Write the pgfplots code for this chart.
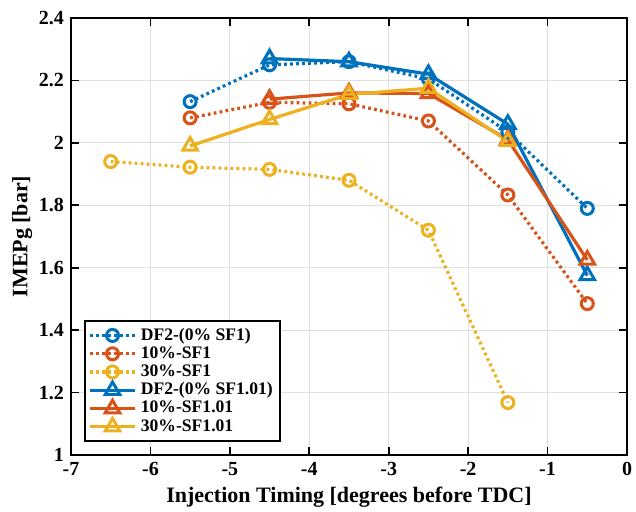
\documentclass[border=0pt]{standalone}
\usepackage{fontspec}
\setmainfont{Liberation Serif}
\usepackage{pgfplots}
\pgfplotsset{compat=1.18}
\definecolor{mblue}{RGB}{0,114,189}
\definecolor{morange}{RGB}{217,83,25}
\definecolor{myellow}{RGB}{237,177,32}
\begin{document}
\begin{tikzpicture}
\begin{axis}[
  at={(0,0)}, anchor=south west,
  scale only axis, width=278pt, height=218.5pt,
  xmin=-7, xmax=0, ymin=1, ymax=2.4,
  xtick={-7,-6,...,0}, ytick={1,1.2,...,2.4},
  yticklabels={1,1.2,1.4,1.6,1.8,2,2.2,2.4},
  xticklabels={-7,-6,-5,-4,-3,-2,-1,0},
  grid=major, major grid style={gray!25, line width=0.6pt},
  axis line style={line width=1pt},
  tick style={black, line width=0.8pt},
  major tick length=4pt,
  tick align=inside,
  /pgf/number format/assume math mode=true,
  tick label style={font=\fontsize{10}{12}\selectfont\bfseries},
  xlabel={Injection Timing [degrees before TDC]},
  ylabel={IMEPg [bar]},
  label style={font=\fontsize{11}{13}\selectfont\bfseries},
  xlabel style={yshift=1pt},
  ylabel style={yshift=-3.5pt},
  legend cell align=left,
  legend style={at={(0.024,0.03)}, anchor=south west, draw=black, line width=0.8pt,
    font=\fontsize{8.8}{10.5}\selectfont\bfseries, inner sep=1.5pt, row sep=-2.3pt},
  legend image code/.code={
    \draw[mark repeat=2,mark phase=2] plot coordinates {(0cm,0cm)(0.4cm,0cm)(0.8cm,0cm)};
  },
]
\addplot[mblue, line width=1.6pt, dash pattern=on 1.4pt off 1.6pt, mark=o, mark size=3pt, mark options={solid, line width=1.5pt}]
 coordinates {(-5.5,2.132)(-4.5,2.25)(-3.5,2.26)(-2.5,2.205)(-1.5,2.035)(-0.5,1.79)};
\addlegendentry{DF2-(0\% SF1)}
\addplot[morange, line width=1.6pt, dash pattern=on 1.4pt off 1.6pt, mark=o, mark size=3pt, mark options={solid, line width=1.5pt}]
 coordinates {(-5.5,2.08)(-4.5,2.13)(-3.5,2.125)(-2.5,2.07)(-1.5,1.833)(-0.5,1.485)};
\addlegendentry{10\%-SF1}
\addplot[myellow, line width=1.6pt, dash pattern=on 1.4pt off 1.6pt, mark=o, mark size=3pt, mark options={solid, line width=1.5pt}]
 coordinates {(-6.5,1.94)(-5.5,1.922)(-4.5,1.915)(-3.5,1.88)(-2.5,1.72)(-1.5,1.168)};
\addlegendentry{30\%-SF1}
\addplot[mblue, line width=1.6pt, mark=triangle, mark size=4.2pt, mark options={solid, line width=1.5pt}]
 coordinates {(-4.5,2.27)(-3.5,2.26)(-2.5,2.22)(-1.5,2.06)(-0.5,1.575)};
\addlegendentry{DF2-(0\% SF1.01)}
\addplot[morange, line width=1.6pt, mark=triangle, mark size=4.2pt, mark options={solid, line width=1.5pt}]
 coordinates {(-4.5,2.14)(-3.5,2.16)(-2.5,2.158)(-1.5,2.01)(-0.5,1.625)};
\addlegendentry{10\%-SF1.01}
\addplot[myellow, line width=1.6pt, mark=triangle, mark size=4.2pt, mark options={solid, line width=1.5pt}]
 coordinates {(-5.5,1.99)(-4.5,2.075)(-3.5,2.155)(-2.5,2.175)(-1.5,2.005)};
\addlegendentry{30\%-SF1.01}
\end{axis}
\pgfresetboundingbox
\path[use as bounding box] (-35.5pt,-28.5pt) rectangle (282.5pt,227.5pt);
\end{tikzpicture}
\end{document}
